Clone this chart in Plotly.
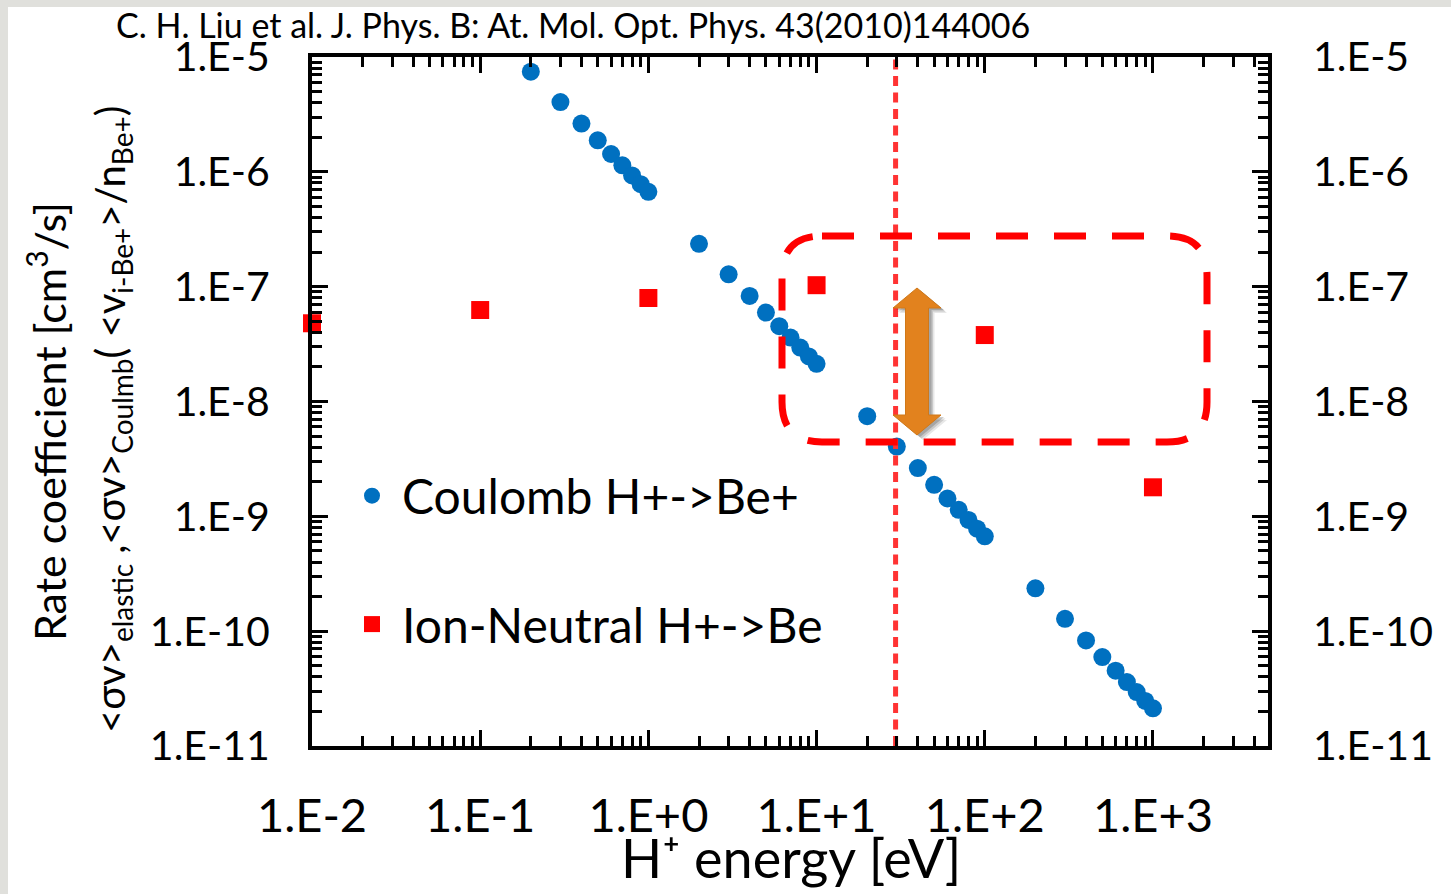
import plotly.graph_objects as go

# Coulomb H+ -> Be+ rate coefficient versus H+ energy
coulomb_energy = [0.2, 0.3, 0.4, 0.5, 0.6, 0.7, 0.8, 0.9, 1.0,
                  2, 3, 4, 5, 6, 7, 8, 9, 10,
                  20, 30, 40, 50, 60, 70, 80, 90, 100,
                  200, 300, 400, 500, 600, 700, 800, 900, 1000]
coulomb_rate = [7.45e-6, 4.05e-6, 2.63e-6, 1.88e-6, 1.43e-6, 1.14e-6, 9.3e-7, 7.8e-7, 6.7e-7,
                2.36e-7, 1.28e-7, 8.3e-8, 5.95e-8, 4.53e-8, 3.6e-8, 2.95e-8, 2.47e-8, 2.13e-8,
                7.45e-9, 4.05e-9, 2.63e-9, 1.88e-9, 1.43e-9, 1.14e-9, 9.3e-10, 7.8e-10, 6.7e-10,
                2.36e-10, 1.28e-10, 8.3e-11, 5.95e-11, 4.53e-11, 3.6e-11, 2.95e-11, 2.47e-11, 2.13e-11]

# Ion-neutral (elastic) H+ -> Be rate coefficient
ion_neutral_energy = [0.01, 0.1, 1, 10, 100, 1000]
ion_neutral_rate = [4.8e-8, 6.26e-8, 7.97e-8, 1.03e-7, 3.79e-8, 1.79e-9]

# energy where the two processes cross over
threshold_energy = 29.5

x_tick_vals = [1e-2, 1e-1, 1e0, 1e1, 1e2, 1e3]
x_tick_text = ["1.E-2", "1.E-1", "1.E+0", "1.E+1", "1.E+2", "1.E+3"]
y_tick_vals = [1e-11, 1e-10, 1e-9, 1e-8, 1e-7, 1e-6, 1e-5]
y_tick_text = ["1.E-11", "1.E-10", "1.E-9", "1.E-8", "1.E-7", "1.E-6", "1.E-5"]

W, H = 1451, 894
L, R, T, B = 312, 1268, 57, 746  # plot area edges in pixels

def px(x):
    return (x - L) / (R - L)

def py(y):
    return (B - y) / (B - T)

FONT = "Lato"
BLUE = "#0070C0"
RED = "#FF0000"
ORANGE = "#E2821E"

fig = go.Figure()

# vertical threshold line, drawn against the right-hand axis (same scale as the left)
fig.add_trace(go.Scatter(
    x=[threshold_energy, threshold_energy], y=[y_tick_vals[0], y_tick_vals[-1]],
    yaxis="y2", mode="lines", line=dict(color="#FF3333", width=5, dash="10px,6.5px"),
    showlegend=False, hoverinfo="skip"))

fig.add_trace(go.Scatter(
    x=coulomb_energy, y=coulomb_rate, mode="markers", name="Coulomb H+->Be+",
    marker=dict(symbol="circle", size=18, color=BLUE), cliponaxis=False,
    legendgroup="a"))
fig.add_trace(go.Scatter(
    x=ion_neutral_energy, y=ion_neutral_rate, mode="markers", name="Ion-Neutral H+->Be",
    marker=dict(symbol="square", size=18, color=RED), cliponaxis=False,
    legendgroup="b"))

axis_common = dict(
    type="log", showgrid=False, zeroline=False,
    showline=True, linewidth=4, linecolor="black", mirror="ticks",
    ticks="inside", ticklen=16, tickwidth=3, tickcolor="black",
    tickmode="array",
)
minor = dict(ticks="inside", ticklen=10, tickwidth=3, tickcolor="black",
             dtick="D1", showgrid=False)

fig.update_layout(
    width=W, height=H,
    margin=dict(l=L, r=W - R, t=T, b=H - B, pad=0),
    paper_bgcolor="#E0E0DC", plot_bgcolor="white",
    font=dict(family=FONT, color="black"),
    xaxis=dict(**axis_common, range=[-2, 3.684],
               tickvals=x_tick_vals, ticktext=x_tick_text,
               tickfont=dict(size=47), ticklabelstandoff=26, minor=minor),
    yaxis=dict(**axis_common, range=[-11, -5],
               tickvals=y_tick_vals, ticktext=y_tick_text,
               tickfont=dict(size=41), ticklabelstandoff=30, minor=minor),
    yaxis2=dict(type="log", range=[-11, -5], overlaying="y", side="right",
                showgrid=False, zeroline=False, showline=False, ticks="",
                tickmode="array", tickvals=y_tick_vals, ticktext=y_tick_text,
                tickfont=dict(size=41), ticklabelstandoff=44),
    showlegend=True,
    legend=dict(x=px(342), y=py(458), xanchor="left", yanchor="top",
                bgcolor="rgba(0,0,0,0)", font=dict(size=48, family=FONT),
                tracegroupgap=63, traceorder="grouped", itemsizing="trace",
                itemwidth=50),
)

# white page behind the whole figure, leaving a thin grey frame at top and left
fig.add_shape(type="rect", xref="paper", yref="paper", layer="below",
              x0=px(8), x1=px(W + 5), y0=py(7), y1=py(H + 5),
              fillcolor="white", line=dict(width=0))

# dashed rounded box around the crossover region
x0, x1, y0, y1, r = 782, 1207, 236, 442, 40
path = (f"M {px(x0 + r)} {py(y0)} L {px(x1 - r)} {py(y0)} "
        f"Q {px(x1)} {py(y0)} {px(x1)} {py(y0 + r)} L {px(x1)} {py(y1 - r)} "
        f"Q {px(x1)} {py(y1)} {px(x1 - r)} {py(y1)} L {px(x0 + r)} {py(y1)} "
        f"Q {px(x0)} {py(y1)} {px(x0)} {py(y1 - r)} L {px(x0)} {py(y0 + r)} "
        f"Q {px(x0)} {py(y0)} {px(x0 + r)} {py(y0)} Z")
fig.add_shape(type="path", xref="paper", yref="paper", path=path,
              line=dict(color=RED, width=7, dash="32px,26px"))

# orange double-headed arrow (with a soft shadow)
def arrow_path(dx, dy):
    cx = 917 + dx
    pts = [(cx, 288), (cx + 24, 308), (cx + 11.5, 308), (cx + 11.5, 415),
           (cx + 24, 415), (cx, 435), (cx - 24, 415), (cx - 11.5, 415),
           (cx - 11.5, 308), (cx - 24, 308)]
    s = "M " + " L ".join(f"{px(x)} {py(y + dy)}" for x, y in pts) + " Z"
    return s

for off, op in [(6, 0.12), (4.5, 0.18), (3, 0.25)]:
    fig.add_shape(type="path", xref="paper", yref="paper", path=arrow_path(off, off - 1),
                  fillcolor=f"rgba(60,60,60,{op})", line=dict(width=0))
fig.add_shape(type="path", xref="paper", yref="paper", path=arrow_path(0, 0),
              fillcolor=ORANGE, line=dict(color="#D07818", width=1))

# citation line at the top
fig.add_annotation(xref="paper", yref="paper", x=px(573), y=py(25),
                   text="C. H. Liu et al. J. Phys. B: At. Mol. Opt. Phys. 43(2010)144006",
                   showarrow=False, xanchor="center", yanchor="middle",
                   font=dict(size=34, family=FONT))

# axis titles
fig.add_annotation(xref="paper", yref="paper", x=px(791), y=py(858),
                   text="H⁺ energy [eV]", showarrow=False,
                   xanchor="center", yanchor="middle", font=dict(size=54, family=FONT))
fig.add_annotation(xref="paper", yref="paper", x=px(46), y=py(422),
                   text="Rate coefficient [cm<sup>3</sup>/s]", showarrow=False,
                   textangle=-90, xanchor="center", yanchor="middle",
                   font=dict(size=43, family=FONT))
fig.add_annotation(xref="paper", yref="paper", x=px(113), y=py(420),
                   text=("&lt;σv&gt;<sub>elastic</sub> ,&lt;σv&gt;<sub>Coulmb</sub>"
                         "( &lt;v<sub>i-Be+</sub>&gt;/n<sub>Be+</sub>)"),
                   showarrow=False, textangle=-90, xanchor="center", yanchor="middle",
                   font=dict(size=40, family=FONT))

fig.write_html("out.html")
